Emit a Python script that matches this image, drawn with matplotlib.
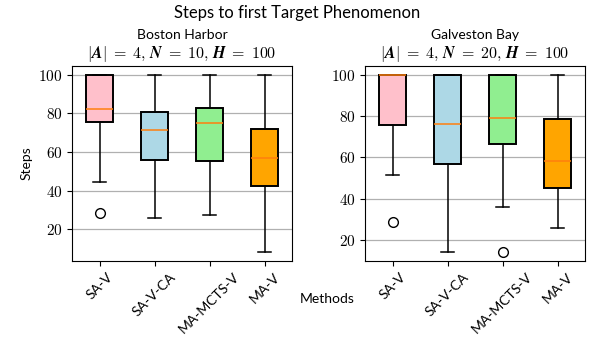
import matplotlib
matplotlib.use("Agg")
import matplotlib.pyplot as plt
from matplotlib.ticker import FuncFormatter

plt.rcParams['font.family'] = ['Lato', 'DejaVu Sans']
plt.rcParams['mathtext.fontset'] = 'cm'

methods = ['SA-V', 'SA-V-CA', 'MA-MCTS-V', 'MA-V']
colors = ['pink', 'lightblue', 'lightgreen', 'orange']

# Boston Harbor: (whislo, q1, med, q3, whishi), fliers
boston_lo = [44.3, 25.9, 27.3, 8.2]
boston_q1 = [75.4, 55.8, 55.3, 42.3]
boston_med = [82.4, 71.6, 75.2, 56.7]
boston_q3 = [100, 80.6, 82.9, 72.0]
boston_hi = [100, 100, 100, 100]
boston_fliers = [[28.7], [], [], []]

# Galveston Bay
galv_lo = [51.4, 14.3, 36.1, 25.5]
galv_q1 = [75.8, 56.7, 66.3, 45.0]
galv_med = [100, 76.4, 78.9, 58.4]
galv_q3 = [100, 100, 100, 78.7]
galv_hi = [100, 100, 100, 100]
galv_fliers = [[28.6], [], [14.0], []]


def make_stats(lo, q1, med, q3, hi, fl):
    return [dict(whislo=lo[i], q1=q1[i], med=med[i], q3=q3[i], whishi=hi[i],
                 fliers=fl[i], label=methods[i]) for i in range(len(methods))]


def formula(n):
    return ('$|\\boldsymbol{A}|\\;=\\;4,\\,\\boldsymbol{N}\\;=\\;%d,'
            '\\,\\boldsymbol{H}\\;=\\;100$' % n)


fig = plt.figure(figsize=(5.95, 3.39), dpi=100)
ax1 = fig.add_axes([72 / 595, 1 - 261 / 339, 220 / 595, 195 / 339])
ax2 = fig.add_axes([365 / 595, 1 - 261 / 339, 220 / 595, 195 / 339])

panels = [
    (ax1, make_stats(boston_lo, boston_q1, boston_med, boston_q3, boston_hi, boston_fliers),
     'Boston Harbor', formula(10)),
    (ax2, make_stats(galv_lo, galv_q1, galv_med, galv_q3, galv_hi, galv_fliers),
     'Galveston Bay', formula(20)),
]

for ax, stats, name, title in panels:
    bp = ax.bxp(stats, patch_artist=True, widths=0.5,
                boxprops=dict(edgecolor='black', linewidth=1.4),
                whiskerprops=dict(color='black', linewidth=1.1),
                capprops=dict(color='black', linewidth=1.1),
                medianprops=dict(color='#ff7f0e', linewidth=1.1),
                flierprops=dict(marker='o', markerfacecolor='none',
                                markeredgecolor='black', markersize=7))
    for patch, c in zip(bp['boxes'], colors):
        patch.set_facecolor(c)
    ax.set_axisbelow(True)
    ax.yaxis.grid(True, color='#b0b0b0', linewidth=0.9)
    ax.set_title(title, fontsize=11.5, pad=6)
    ax.text(0.5, 1.16, name, transform=ax.transAxes, ha='center', va='center', fontsize=10)
    ax.set_xticks(range(1, 5))
    ax.set_xticklabels(methods, rotation=45, fontsize=10)
    ax.yaxis.set_major_formatter(FuncFormatter(lambda v, p: '$\\mathbf{%d}$' % v))
    ax.tick_params(axis='y', labelsize=11)

ax1.set_ylabel('Steps', fontsize=10)
fig.suptitle('Steps to first Target Phenomenon', fontsize=12, y=0.985)
fig.text(327 / 595, 1 - 299 / 339, 'Methods', ha='center', va='center', fontsize=10)

fig.savefig('out.png', dpi=100)
